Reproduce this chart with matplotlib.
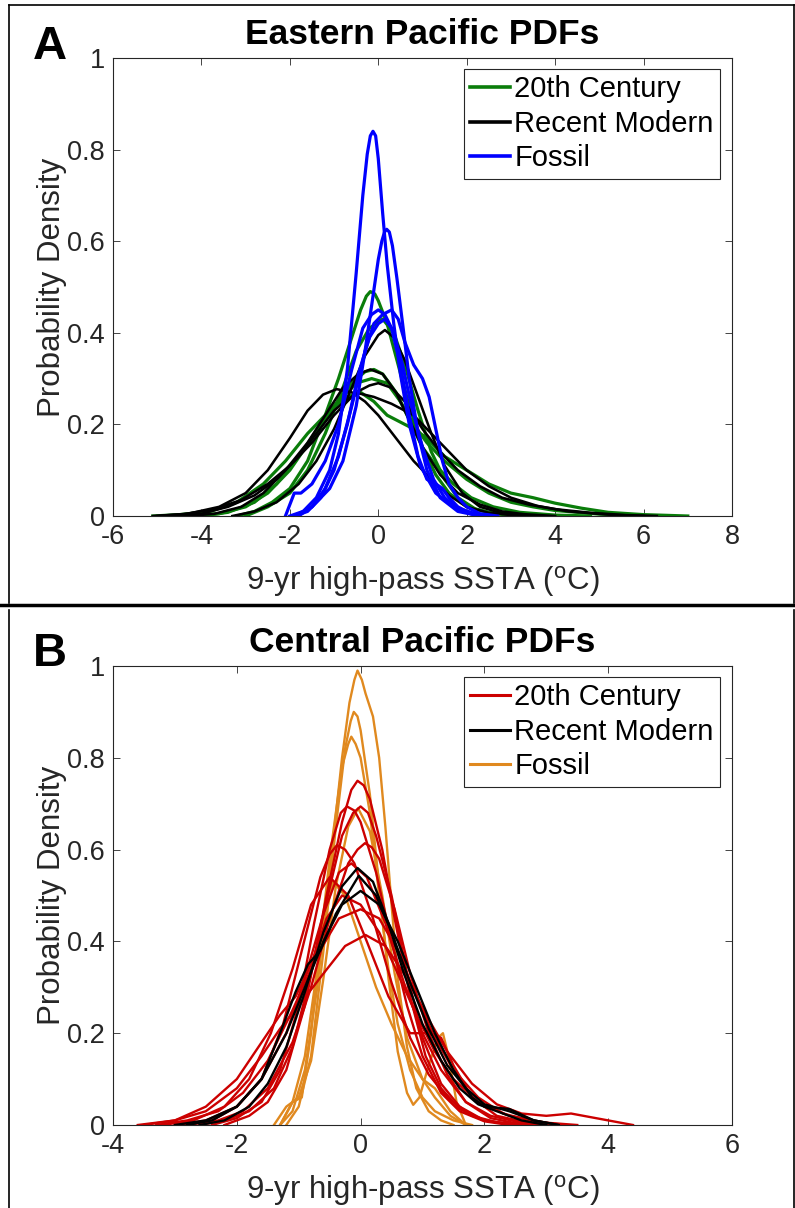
import matplotlib
matplotlib.use("Agg")
import matplotlib.pyplot as plt
from matplotlib.lines import Line2D

plt.rcParams['font.family'] = ['Liberation Sans', 'DejaVu Sans']

# ---------------- data: panel A (Eastern Pacific) ----------------
A_xticks = [-6, -4, -2, 0, 2, 4, 6, 8]
A_xticklabels = ['-6', '-4', '-2', '0', '2', '4', '6', '8']
yticks = [0, 0.2, 0.4, 0.6, 0.8, 1.0]
yticklabels = ['0', '0.2', '0.4', '0.6', '0.8', '1']

A_green_1_x = [-3.2, -2.8, -2.4, -2.0, -1.6, -1.2, -0.9, -0.6, -0.4, -0.27, -0.18, -0.08, 0.0, 0.2, 0.45, 0.7, 1.0, 1.3, 1.6, 2.0, 2.5, 3.0, 3.8]
A_green_1_y = [0, 0.01, 0.03, 0.06, 0.12, 0.22, 0.30, 0.39, 0.45, 0.48, 0.49, 0.485, 0.47, 0.42, 0.33, 0.24, 0.15, 0.09, 0.05, 0.02, 0.008, 0.003, 0]
A_green_2_x = [-3.0, -2.5, -2.0, -1.6, -1.2, -0.8, -0.5, -0.2, 0.1, 0.35, 0.6, 0.9, 1.2, 1.5, 1.8, 2.2, 2.6, 3.0, 3.6]
A_green_2_y = [0, 0.02, 0.05, 0.10, 0.18, 0.28, 0.36, 0.41, 0.43, 0.40, 0.33, 0.23, 0.14, 0.08, 0.04, 0.015, 0.005, 0.002, 0]
A_green_3_x = [-4.2, -3.6, -3.0, -2.5, -2.0, -1.5, -1.0, -0.6, -0.3, -0.1, 0.1, 0.4, 0.7, 1.0, 1.3, 1.7, 2.1, 2.6, 3.2, 4.0, 4.8]
A_green_3_y = [0, 0.005, 0.02, 0.05, 0.10, 0.17, 0.24, 0.29, 0.315, 0.32, 0.31, 0.27, 0.21, 0.15, 0.11, 0.07, 0.04, 0.02, 0.008, 0.002, 0]
A_green_4_x = [-4.0, -3.4, -2.8, -2.3, -1.8, -1.3, -0.9, -0.5, -0.15, 0.2, 0.5, 0.8, 1.1, 1.5, 2.0, 2.5, 3.0, 3.5, 4.0, 5.0, 6.2]
A_green_4_y = [0, 0.008, 0.03, 0.07, 0.13, 0.20, 0.25, 0.29, 0.30, 0.29, 0.25, 0.20, 0.16, 0.12, 0.08, 0.05, 0.03, 0.02, 0.012, 0.004, 0]
A_green_5_x = [-5.1, -4.5, -3.8, -3.2, -2.6, -2.1, -1.6, -1.1, -0.7, -0.4, -0.1, 0.2, 0.5, 0.8, 1.1, 1.5, 2.0, 2.5, 3.0, 3.5, 4.0, 4.6, 5.2, 6.0, 7.0]
A_green_5_y = [0, 0.003, 0.01, 0.03, 0.07, 0.12, 0.18, 0.23, 0.26, 0.27, 0.25, 0.22, 0.205, 0.19, 0.17, 0.13, 0.10, 0.07, 0.05, 0.04, 0.028, 0.017, 0.008, 0.003, 0]

A_black_1_x = [-3.3, -2.8, -2.3, -1.8, -1.4, -1.0, -0.6, -0.3, 0.0, 0.15, 0.35, 0.6, 0.9, 1.2, 1.5, 1.9, 2.3, 2.8, 3.5]
A_black_1_y = [0, 0.01, 0.03, 0.07, 0.12, 0.19, 0.28, 0.35, 0.395, 0.406, 0.39, 0.34, 0.26, 0.18, 0.11, 0.05, 0.02, 0.006, 0]
A_black_2_x = [-4.3, -3.7, -3.1, -2.6, -2.1, -1.6, -1.2, -0.8, -0.45, -0.18, 0.1, 0.4, 0.7, 1.0, 1.4, 1.8, 2.3, 2.8, 3.3, 4.0]
A_black_2_y = [0, 0.005, 0.02, 0.05, 0.10, 0.16, 0.22, 0.28, 0.31, 0.32, 0.31, 0.27, 0.21, 0.15, 0.09, 0.05, 0.025, 0.01, 0.004, 0]
A_black_3_x = [-5.1, -4.4, -3.7, -3.1, -2.5, -2.0, -1.5, -1.0, -0.5, -0.2, 0.0, 0.3, 0.6, 1.0, 1.4, 1.8, 2.3, 2.8, 3.4, 4.0, 4.8, 5.6, 6.3]
A_black_3_y = [0, 0.004, 0.015, 0.035, 0.07, 0.11, 0.16, 0.22, 0.27, 0.285, 0.29, 0.28, 0.25, 0.19, 0.14, 0.10, 0.065, 0.04, 0.025, 0.015, 0.007, 0.002, 0]
A_black_4_x = [-5.0, -4.3, -3.6, -3.0, -2.5, -2.0, -1.6, -1.25, -0.94, -0.6, -0.3, 0.0, 0.4, 0.8, 1.2, 1.6, 2.0, 2.5, 3.0, 3.6]
A_black_4_y = [0, 0.005, 0.02, 0.05, 0.10, 0.17, 0.23, 0.265, 0.277, 0.27, 0.25, 0.22, 0.17, 0.12, 0.08, 0.045, 0.02, 0.007, 0.002, 0]
A_black_5_x = [-4.6, -4.0, -3.4, -2.8, -2.3, -1.8, -1.4, -1.0, -0.7, -0.45, -0.1, 0.3, 0.8, 1.2, 1.6, 2.0, 2.5, 3.0, 3.6, 4.3, 5.2, 6.0]
A_black_5_y = [0, 0.005, 0.02, 0.045, 0.08, 0.13, 0.18, 0.23, 0.255, 0.268, 0.26, 0.245, 0.22, 0.18, 0.14, 0.10, 0.065, 0.04, 0.022, 0.01, 0.003, 0]

A_blue_1_x = [-2.0, -1.7, -1.4, -1.1, -0.9, -0.7, -0.5, -0.35, -0.25, -0.18, -0.12, -0.06, 0.0, 0.1, 0.2, 0.35, 0.5, 0.7, 0.95, 1.3, 1.7, 2.2, 2.6]
A_blue_1_y = [0, 0.01, 0.04, 0.10, 0.18, 0.32, 0.53, 0.70, 0.79, 0.83, 0.84, 0.83, 0.78, 0.66, 0.55, 0.42, 0.31, 0.20, 0.11, 0.05, 0.02, 0.005, 0]
A_blue_2_x = [-1.9, -1.5, -1.1, -0.8, -0.5, -0.3, -0.12, 0.0, 0.08, 0.14, 0.19, 0.25, 0.32, 0.42, 0.55, 0.7, 0.9, 1.1, 1.4, 1.8, 2.3]
A_blue_2_y = [0, 0.02, 0.06, 0.12, 0.24, 0.36, 0.48, 0.56, 0.60, 0.62, 0.626, 0.62, 0.59, 0.52, 0.42, 0.30, 0.18, 0.10, 0.04, 0.01, 0]
A_blue_3_x = [-2.1, -1.9, -1.75, -1.5, -1.2, -0.9, -0.6, -0.35, -0.15, 0.0, 0.15, 0.35, 0.55, 0.75, 1.0, 1.25, 1.5, 1.8, 2.1, 2.5]
A_blue_3_y = [0, 0.05, 0.05, 0.07, 0.12, 0.20, 0.32, 0.41, 0.44, 0.45, 0.44, 0.40, 0.33, 0.24, 0.15, 0.08, 0.04, 0.015, 0.005, 0]
A_blue_4_x = [-1.8, -1.5, -1.2, -0.9, -0.6, -0.3, -0.1, 0.1, 0.3, 0.45, 0.6, 0.8, 1.0, 1.15, 1.3, 1.45, 1.6, 1.8, 2.0, 2.3, 2.7]
A_blue_4_y = [0, 0.02, 0.06, 0.13, 0.24, 0.36, 0.42, 0.44, 0.45, 0.43, 0.38, 0.33, 0.30, 0.26, 0.19, 0.12, 0.07, 0.04, 0.02, 0.005, 0]
A_blue_5_x = [-1.9, -1.6, -1.3, -1.0, -0.7, -0.45, -0.2, 0.0, 0.15, 0.3, 0.5, 0.7, 0.9, 1.1, 1.3, 1.45, 1.6, 1.8, 2.1, 2.5]
A_blue_5_y = [0, 0.01, 0.04, 0.10, 0.20, 0.31, 0.39, 0.42, 0.43, 0.41, 0.33, 0.22, 0.13, 0.08, 0.07, 0.06, 0.04, 0.02, 0.005, 0]

# ---------------- data: panel B (Central Pacific) ----------------
B_xticks = [-4, -2, 0, 2, 4, 6]
B_xticklabels = ['-4', '-2', '0', '2', '4', '6']

B_red_1_x = [-2.6, -2.2, -1.8, -1.4, -1.1, -0.8, -0.55, -0.3, -0.15, -0.05, 0.05, 0.15, 0.35, 0.55, 0.8, 1.05, 1.3, 1.6, 2.0, 2.5]
B_red_1_y = [0, 0.01, 0.03, 0.08, 0.17, 0.33, 0.50, 0.66, 0.73, 0.75, 0.74, 0.71, 0.60, 0.45, 0.28, 0.15, 0.08, 0.035, 0.01, 0]
B_red_2_x = [-2.4, -2.0, -1.6, -1.3, -1.0, -0.75, -0.5, -0.32, -0.22, -0.1, 0.0, 0.25, 0.5, 0.75, 1.0, 1.3, 1.6, 2.0, 2.4]
B_red_2_y = [0, 0.015, 0.05, 0.12, 0.26, 0.44, 0.60, 0.68, 0.694, 0.685, 0.66, 0.55, 0.40, 0.26, 0.15, 0.07, 0.03, 0.008, 0]
B_red_3_x = [-2.2, -1.8, -1.5, -1.2, -0.9, -0.6, -0.3, -0.12, 0.0, 0.12, 0.25, 0.5, 0.75, 1.0, 1.3, 1.6, 2.0, 2.5]
B_red_3_y = [0, 0.02, 0.05, 0.12, 0.26, 0.46, 0.63, 0.68, 0.694, 0.68, 0.63, 0.50, 0.33, 0.19, 0.09, 0.04, 0.01, 0]
B_red_4_x = [-2.8, -2.3, -1.9, -1.5, -1.1, -0.8, -0.5, -0.2, -0.05, 0.07, 0.18, 0.3, 0.55, 0.8, 1.1, 1.4, 1.7, 2.1, 2.5, 3.0]
B_red_4_y = [0, 0.01, 0.03, 0.08, 0.18, 0.30, 0.45, 0.57, 0.60, 0.614, 0.605, 0.58, 0.47, 0.33, 0.20, 0.11, 0.05, 0.015, 0.004, 0]
B_red_5_x = [-2.9, -2.4, -2.0, -1.6, -1.25, -0.95, -0.65, -0.5, -0.38, -0.25, -0.1, 0.2, 0.5, 0.8, 1.1, 1.4, 1.8, 2.2, 2.7]
B_red_5_y = [0, 0.01, 0.04, 0.10, 0.22, 0.38, 0.54, 0.59, 0.61, 0.60, 0.57, 0.45, 0.31, 0.19, 0.11, 0.06, 0.02, 0.006, 0]
B_red_6_x = [-3.0, -2.5, -2.0, -1.6, -1.2, -0.9, -0.6, -0.35, -0.15, 0.1, 0.4, 0.7, 1.0, 1.3, 1.7, 2.1, 2.6, 3.0]
B_red_6_y = [0, 0.01, 0.04, 0.10, 0.20, 0.32, 0.46, 0.55, 0.57, 0.54, 0.44, 0.31, 0.20, 0.12, 0.05, 0.02, 0.005, 0]
B_red_7_x = [-3.2, -2.7, -2.2, -1.8, -1.45, -1.1, -0.8, -0.5, -0.2, 0.1, 0.45, 0.8, 1.1, 1.3, 1.5, 1.8, 2.2, 2.7, 3.3]
B_red_7_y = [0, 0.01, 0.04, 0.10, 0.20, 0.34, 0.48, 0.54, 0.50, 0.40, 0.28, 0.20, 0.20, 0.19, 0.13, 0.06, 0.02, 0.005, 0]
B_red_8_x = [-3.3, -2.8, -2.3, -1.9, -1.5, -1.1, -0.7, -0.35, 0.0, 0.3, 0.6, 0.9, 1.2, 1.5, 1.9, 2.3, 2.8, 3.3]
B_red_8_y = [0, 0.01, 0.03, 0.07, 0.14, 0.25, 0.37, 0.45, 0.47, 0.45, 0.38, 0.28, 0.19, 0.12, 0.06, 0.025, 0.008, 0]
B_red_9_x = [-3.6, -3.0, -2.5, -2.0, -1.6, -1.3, -1.0, -0.6, -0.25, 0.08, 0.4, 0.75, 1.1, 1.4, 1.8, 2.2, 2.6, 3.0, 3.4, 3.8, 4.4]
B_red_9_y = [0, 0.01, 0.03, 0.08, 0.15, 0.21, 0.26, 0.33, 0.39, 0.414, 0.39, 0.32, 0.23, 0.16, 0.09, 0.045, 0.025, 0.02, 0.025, 0.015, 0]
B_red_10_x = [-3.5, -3.0, -2.5, -2.0, -1.6, -1.3, -1.05, -0.8, -0.55, -0.3, 0.0, 0.3, 0.6, 0.9, 1.2, 1.5, 1.9, 2.4, 3.0, 3.5]
B_red_10_y = [0, 0.01, 0.04, 0.10, 0.18, 0.24, 0.28, 0.35, 0.45, 0.50, 0.48, 0.42, 0.33, 0.24, 0.16, 0.10, 0.05, 0.02, 0.005, 0]

B_black_1_x = [-2.6, -2.2, -1.8, -1.5, -1.2, -0.9, -0.6, -0.3, -0.05, 0.2, 0.45, 0.7, 1.0, 1.3, 1.6, 1.9, 2.2, 2.6, 3.0]
B_black_1_y = [0, 0.01, 0.04, 0.09, 0.17, 0.29, 0.42, 0.52, 0.56, 0.53, 0.44, 0.33, 0.22, 0.14, 0.08, 0.045, 0.03, 0.01, 0]
B_black_2_x = [-3.0, -2.5, -2.0, -1.6, -1.3, -1.05, -0.85, -0.65, -0.4, -0.03, 0.25, 0.5, 0.8, 1.1, 1.4, 1.7, 2.0, 2.4, 2.8, 3.2]
B_black_2_y = [0, 0.01, 0.04, 0.10, 0.20, 0.29, 0.35, 0.38, 0.46, 0.543, 0.50, 0.42, 0.31, 0.21, 0.13, 0.08, 0.045, 0.03, 0.01, 0]
B_black_3_x = [-2.8, -2.4, -2.0, -1.6, -1.2, -0.9, -0.6, -0.3, 0.0, 0.3, 0.6, 0.9, 1.2, 1.5, 1.8, 2.0, 2.4, 2.8, 3.2]
B_black_3_y = [0, 0.01, 0.04, 0.10, 0.20, 0.30, 0.40, 0.48, 0.51, 0.48, 0.40, 0.30, 0.20, 0.12, 0.06, 0.04, 0.035, 0.01, 0]

B_orange_1_x = [-1.3, -1.1, -0.9, -0.7, -0.5, -0.3, -0.18, -0.1, -0.05, 0.02, 0.08, 0.2, 0.3, 0.4, 0.5, 0.6, 0.75, 0.9, 1.1, 1.3, 1.5]
B_orange_1_y = [0, 0.03, 0.12, 0.30, 0.55, 0.80, 0.92, 0.97, 0.99, 0.97, 0.94, 0.89, 0.80, 0.65, 0.48, 0.32, 0.17, 0.08, 0.03, 0.01, 0]
B_orange_2_x = [-1.2, -1.0, -0.8, -0.6, -0.4, -0.25, -0.16, -0.11, -0.05, 0.0, 0.15, 0.3, 0.45, 0.6, 0.75, 0.85, 0.95, 1.1, 1.25, 1.33, 1.42, 1.55, 1.7]
B_orange_2_y = [0, 0.04, 0.15, 0.38, 0.65, 0.82, 0.88, 0.90, 0.89, 0.86, 0.72, 0.52, 0.32, 0.16, 0.07, 0.044, 0.06, 0.13, 0.19, 0.20, 0.15, 0.05, 0]
B_orange_3_x = [-1.3, -1.1, -0.9, -0.7, -0.5, -0.3, -0.2, -0.15, -0.08, 0.0, 0.15, 0.3, 0.45, 0.6, 0.8, 1.0, 1.2, 1.5, 1.8]
B_orange_3_y = [0, 0.05, 0.15, 0.34, 0.58, 0.78, 0.83, 0.846, 0.83, 0.80, 0.68, 0.50, 0.34, 0.22, 0.12, 0.06, 0.03, 0.01, 0]
B_orange_4_x = [-1.4, -1.2, -1.0, -0.8, -0.6, -0.4, -0.2, -0.04, 0.15, 0.35, 0.55, 0.75, 1.0, 1.2, 1.45, 1.7]
B_orange_4_y = [0, 0.04, 0.06, 0.14, 0.32, 0.52, 0.65, 0.69, 0.64, 0.50, 0.33, 0.19, 0.10, 0.08, 0.03, 0]
B_orange_5_x = [-1.3, -1.1, -0.95, -0.8, -0.65, -0.45, -0.25, 0.0, 0.25, 0.5, 0.75, 1.0, 1.2, 1.45, 1.7]
B_orange_5_y = [0, 0.05, 0.06, 0.20, 0.40, 0.53, 0.50, 0.40, 0.30, 0.22, 0.15, 0.10, 0.06, 0.02, 0]

legend_labels = ['20th Century', 'Recent Modern', 'Fossil']

# ---------------- styling ----------------
W, H = 795, 1208
GREEN = '#0a7d0a'
BLUE = '#0000ff'
BLACK = '#000000'
RED = '#cc0000'
ORANGE = '#e0891f'
AXC = '#262626'

fig = plt.figure(figsize=(W / 100, H / 100), dpi=100)


def fx(px):
    return px / W


def fy(py):
    return 1 - py / H


def style_axes(ax, xlim, xticks, xticklabels):
    ax.set_xlim(*xlim)
    ax.set_ylim(0, 1)
    ax.set_xticks(xticks)
    ax.set_xticklabels(xticklabels)
    ax.set_yticks(yticks)
    ax.set_yticklabels(yticklabels)
    ax.tick_params(direction='in', top=True, right=True, length=5, width=0.6,
                   color=AXC, labelsize=19.5, labelcolor=AXC, pad=6)
    for s in ax.spines.values():
        s.set_color(AXC)
        s.set_linewidth(0.8)
    ax.set_ylabel('Probability Density', fontsize=22.5, color=AXC, labelpad=0)
    ax.set_xlabel('9-yr high-pass SSTA ($\\mathregular{^{o}}$C)', fontsize=22.5, color=AXC, labelpad=10)


def add_legend(ax, colors, lw, top_px):
    handles = [Line2D([0], [0], color=c, lw=lw) for c in colors]
    leg = ax.legend(handles, legend_labels, loc='upper left',
                    bbox_to_anchor=(fx(464), fy(top_px)), bbox_transform=fig.transFigure,
                    borderaxespad=0, fontsize=21, handlelength=1.35, handletextpad=0.15,
                    labelspacing=0.22, borderpad=0.22, fancybox=False, framealpha=1)
    leg.get_frame().set_edgecolor(AXC)
    leg.get_frame().set_linewidth(0.8)
    for t in leg.get_texts():
        t.set_color('black')


# ---------------- Panel A ----------------
axA = fig.add_axes([fx(113), fy(516), fx(732) - fx(113), fy(58) - fy(516)])
lwA = 2.3
A_green = [(A_green_1_x, A_green_1_y), (A_green_2_x, A_green_2_y), (A_green_3_x, A_green_3_y),
           (A_green_4_x, A_green_4_y), (A_green_5_x, A_green_5_y)]
A_black = [(A_black_1_x, A_black_1_y), (A_black_2_x, A_black_2_y), (A_black_3_x, A_black_3_y),
           (A_black_4_x, A_black_4_y), (A_black_5_x, A_black_5_y)]
A_blue = [(A_blue_1_x, A_blue_1_y), (A_blue_2_x, A_blue_2_y), (A_blue_3_x, A_blue_3_y),
          (A_blue_4_x, A_blue_4_y), (A_blue_5_x, A_blue_5_y)]
for x, y in A_green:
    axA.plot(x, y, color=GREEN, lw=lwA, solid_joinstyle='round')
for x, y in A_black:
    axA.plot(x, y, color=BLACK, lw=lwA * 0.8, solid_joinstyle='round')
for x, y in A_blue:
    axA.plot(x, y, color=BLUE, lw=lwA, solid_joinstyle='round')
style_axes(axA, (-6, 8), A_xticks, A_xticklabels)
axA.set_title('Eastern Pacific PDFs', fontsize=25.5, fontweight='bold', pad=10)
add_legend(axA, [GREEN, BLACK, BLUE], 2.6, 69)
fig.text(fx(50), fy(47), 'A', fontsize=34, fontweight='bold', ha='center', va='center')

# ---------------- Panel B ----------------
axB = fig.add_axes([fx(113), fy(1125), fx(732) - fx(113), fy(666) - fy(1125)])
lwB = 1.7
B_red = [(B_red_1_x, B_red_1_y), (B_red_2_x, B_red_2_y), (B_red_3_x, B_red_3_y), (B_red_4_x, B_red_4_y),
         (B_red_5_x, B_red_5_y), (B_red_6_x, B_red_6_y), (B_red_7_x, B_red_7_y), (B_red_8_x, B_red_8_y),
         (B_red_9_x, B_red_9_y), (B_red_10_x, B_red_10_y)]
B_black = [(B_black_1_x, B_black_1_y), (B_black_2_x, B_black_2_y), (B_black_3_x, B_black_3_y)]
B_orange = [(B_orange_1_x, B_orange_1_y), (B_orange_2_x, B_orange_2_y), (B_orange_3_x, B_orange_3_y),
            (B_orange_4_x, B_orange_4_y), (B_orange_5_x, B_orange_5_y)]
for x, y in B_orange:
    axB.plot(x, y, color=ORANGE, lw=lwB, solid_joinstyle='round')
for x, y in B_red:
    axB.plot(x, y, color=RED, lw=lwB, solid_joinstyle='round')
for x, y in B_black:
    axB.plot(x, y, color=BLACK, lw=lwB, solid_joinstyle='round')
style_axes(axB, (-4, 6), B_xticks, B_xticklabels)
axB.set_title('Central Pacific PDFs', fontsize=25.5, fontweight='bold', pad=10)
add_legend(axB, [RED, BLACK, ORANGE], 2.2, 677)
fig.text(fx(50), fy(654), 'B', fontsize=34, fontweight='bold', ha='center', va='center')

# ---------------- panel frames ----------------
def fline(x0, y0, x1, y1, lw):
    fig.add_artist(Line2D([fx(x0), fx(x1)], [fy(y0), fy(y1)], color='black', lw=lw,
                          transform=fig.transFigure))

fline(9, 5, 795, 5, 1.2)
fline(9, 5, 9, 603, 1.2)
fline(794, 5, 794, 603, 1.2)
fline(0, 605, 795, 605, 2.5)
fline(9, 610, 9, 1208, 1.2)
fline(794, 610, 794, 1208, 1.2)

fig.savefig('out.png', dpi=100)
